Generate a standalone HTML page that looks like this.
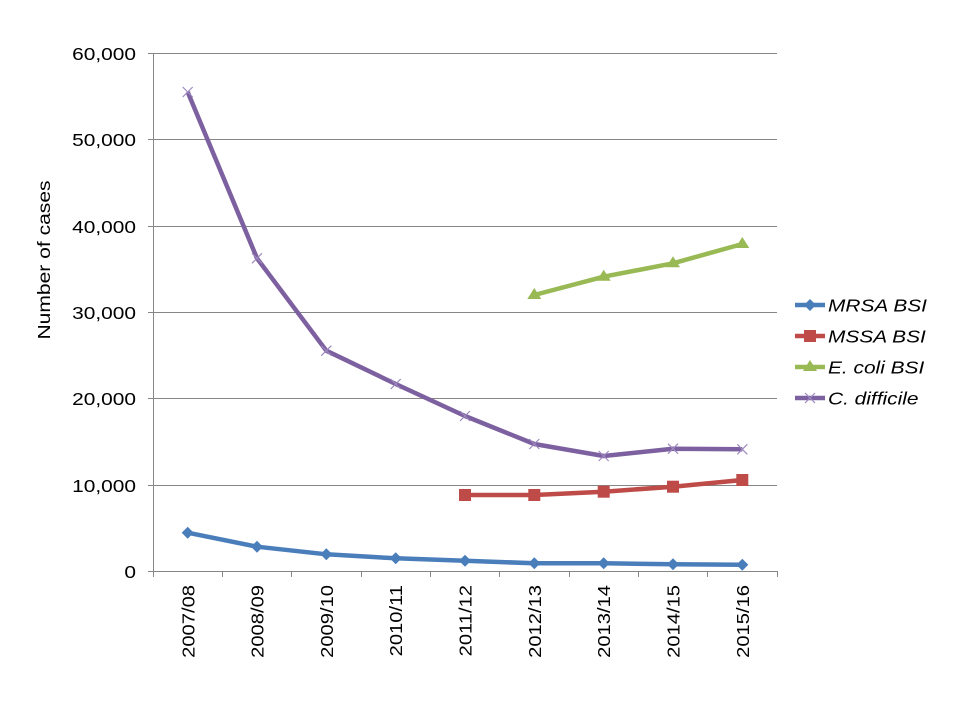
<!DOCTYPE html>
<html>
<head>
<meta charset="utf-8">
<style>
html,body{margin:0;padding:0;background:#fff;}
svg{display:block;}
text{font-family:"Liberation Sans",Arial,sans-serif;fill:#000;}
</style>
</head>
<body>
<svg width="960" height="720" viewBox="0 0 960 720" xmlns="http://www.w3.org/2000/svg">
<rect width="960" height="720" fill="#fff"/>
<!-- gridlines -->
<g stroke="#868686" stroke-width="1" shape-rendering="crispEdges">
<line x1="148" y1="53.5" x2="777" y2="53.5"/>
<line x1="148" y1="139.5" x2="777" y2="139.5"/>
<line x1="148" y1="226.5" x2="777" y2="226.5"/>
<line x1="148" y1="312.5" x2="777" y2="312.5"/>
<line x1="148" y1="398.5" x2="777" y2="398.5"/>
<line x1="148" y1="485.5" x2="777" y2="485.5"/>
<line x1="148" y1="571.5" x2="777" y2="571.5"/>
<line x1="153.5" y1="53" x2="153.5" y2="577"/>
<line x1="222.5" y1="571" x2="222.5" y2="577"/>
<line x1="291.5" y1="571" x2="291.5" y2="577"/>
<line x1="361.5" y1="571" x2="361.5" y2="577"/>
<line x1="430.5" y1="571" x2="430.5" y2="577"/>
<line x1="499.5" y1="571" x2="499.5" y2="577"/>
<line x1="569.5" y1="571" x2="569.5" y2="577"/>
<line x1="638.5" y1="571" x2="638.5" y2="577"/>
<line x1="707.5" y1="571" x2="707.5" y2="577"/>
<line x1="777.5" y1="571" x2="777.5" y2="577"/>
</g>
<!-- y labels -->
<g font-size="18" text-anchor="end">
<text transform="translate(136,60) scale(1.16,1)">60,000</text>
<text transform="translate(136,146) scale(1.16,1)">50,000</text>
<text transform="translate(136,233) scale(1.16,1)">40,000</text>
<text transform="translate(136,319) scale(1.16,1)">30,000</text>
<text transform="translate(136,405) scale(1.16,1)">20,000</text>
<text transform="translate(136,492) scale(1.16,1)">10,000</text>
<text transform="translate(136,578) scale(1.16,1)">0</text>
</g>
<!-- axis title -->
<text font-size="18" text-anchor="middle" transform="translate(50,260) rotate(-90) scale(1.17,1)">Number  of cases</text>
<!-- x labels -->
<g font-size="18" text-anchor="end">
<text transform="translate(194.5,585) rotate(-90) scale(1.12,1)">2007/08</text>
<text transform="translate(263.5,585) rotate(-90) scale(1.12,1)">2008/09</text>
<text transform="translate(333,585) rotate(-90) scale(1.12,1)">2009/10</text>
<text transform="translate(402,585) rotate(-90) scale(1.12,1)">2010/11</text>
<text transform="translate(471.5,585) rotate(-90) scale(1.12,1)">2011/12</text>
<text transform="translate(541,585) rotate(-90) scale(1.12,1)">2012/13</text>
<text transform="translate(610,585) rotate(-90) scale(1.12,1)">2013/14</text>
<text transform="translate(679.5,585) rotate(-90) scale(1.12,1)">2014/15</text>
<text transform="translate(749,585) rotate(-90) scale(1.12,1)">2015/16</text>
</g>
<!-- C. difficile -->
<polyline fill="none" stroke="#7D60A0" stroke-width="4.5" stroke-linejoin="round" points="187.7,92 257,258.3 326.3,350.7 395.7,384 465,416 534.3,444 603.7,456 673,448.7 742.3,449.3"/>
<g stroke="#9C88BE" stroke-width="1.2">
<path d="M182.7,87 l10,10 M192.7,87 l-10,10"/>
<path d="M252,253.3 l10,10 M262,253.3 l-10,10"/>
<path d="M321.3,345.7 l10,10 M331.3,345.7 l-10,10"/>
<path d="M390.7,379 l10,10 M400.7,379 l-10,10"/>
<path d="M460,411 l10,10 M470,411 l-10,10"/>
<path d="M529.3,439 l10,10 M539.3,439 l-10,10"/>
<path d="M598.7,451 l10,10 M608.7,451 l-10,10"/>
<path d="M668,443.7 l10,10 M678,443.7 l-10,10"/>
<path d="M737.3,444.3 l10,10 M747.3,444.3 l-10,10"/>
</g>
<!-- E. coli -->
<polyline fill="none" stroke="#98B954" stroke-width="4.5" stroke-linejoin="round" points="534.3,295 603.7,276.7 673,263.3 742.3,244"/>
<g fill="#98B954">
<path d="M534.3,288 l7,11 h-14 z"/>
<path d="M603.7,269.7 l7,11 h-14 z"/>
<path d="M673,256.3 l7,11 h-14 z"/>
<path d="M742.3,237 l7,11 h-14 z"/>
</g>
<!-- MSSA -->
<polyline fill="none" stroke="#BE4B48" stroke-width="4.5" stroke-linejoin="round" points="465,495 534.3,495 603.7,491.7 673,486.7 742.3,480"/>
<g fill="#BE4B48">
<rect x="459" y="489" width="12" height="12"/>
<rect x="528.3" y="489" width="12" height="12"/>
<rect x="597.7" y="485.7" width="12" height="12"/>
<rect x="667" y="480.7" width="12" height="12"/>
<rect x="736.3" y="474" width="12" height="12"/>
</g>
<!-- MRSA -->
<polyline fill="none" stroke="#4A7EBB" stroke-width="4.5" stroke-linejoin="round" points="187.7,532.7 257,546.7 326.3,554.3 395.7,558.3 465,560.7 534.3,563.3 603.7,563.3 673,564.3 742.3,564.7"/>
<g fill="#4A7EBB">
<path d="M187.7,526.7 l6,6 -6,6 -6,-6 z"/>
<path d="M257,540.7 l6,6 -6,6 -6,-6 z"/>
<path d="M326.3,548.3 l6,6 -6,6 -6,-6 z"/>
<path d="M395.7,552.3 l6,6 -6,6 -6,-6 z"/>
<path d="M465,554.7 l6,6 -6,6 -6,-6 z"/>
<path d="M534.3,557.3 l6,6 -6,6 -6,-6 z"/>
<path d="M603.7,557.3 l6,6 -6,6 -6,-6 z"/>
<path d="M673,558.3 l6,6 -6,6 -6,-6 z"/>
<path d="M742.3,558.7 l6,6 -6,6 -6,-6 z"/>
</g>
<!-- legend -->
<g>
<line x1="795" y1="305" x2="825" y2="305" stroke="#4A7EBB" stroke-width="4.5"/>
<path d="M810,299 l6,6 -6,6 -6,-6 z" fill="#4A7EBB"/>
<line x1="795" y1="336" x2="825" y2="336" stroke="#BE4B48" stroke-width="4.5"/>
<rect x="804" y="330" width="12" height="12" fill="#BE4B48"/>
<line x1="795" y1="367" x2="825" y2="367" stroke="#98B954" stroke-width="4.5"/>
<path d="M810,360 l7,11 h-14 z" fill="#98B954"/>
<line x1="795" y1="398" x2="825" y2="398" stroke="#7D60A0" stroke-width="4.5"/>
<path d="M805,393 l10,10 M815,393 l-10,10" stroke="#9C88BE" stroke-width="1.2"/>
</g>
<g font-size="18" font-style="italic">
<text transform="translate(828,311.5) scale(1.16,1)">MRSA BSI</text>
<text transform="translate(828,342.5) scale(1.16,1)">MSSA BSI</text>
<text transform="translate(828,373.5) scale(1.16,1)">E. coli BSI</text>
<text transform="translate(828,404.5) scale(1.16,1)">C. difficile</text>
</g>
</svg>
</body>
</html>
